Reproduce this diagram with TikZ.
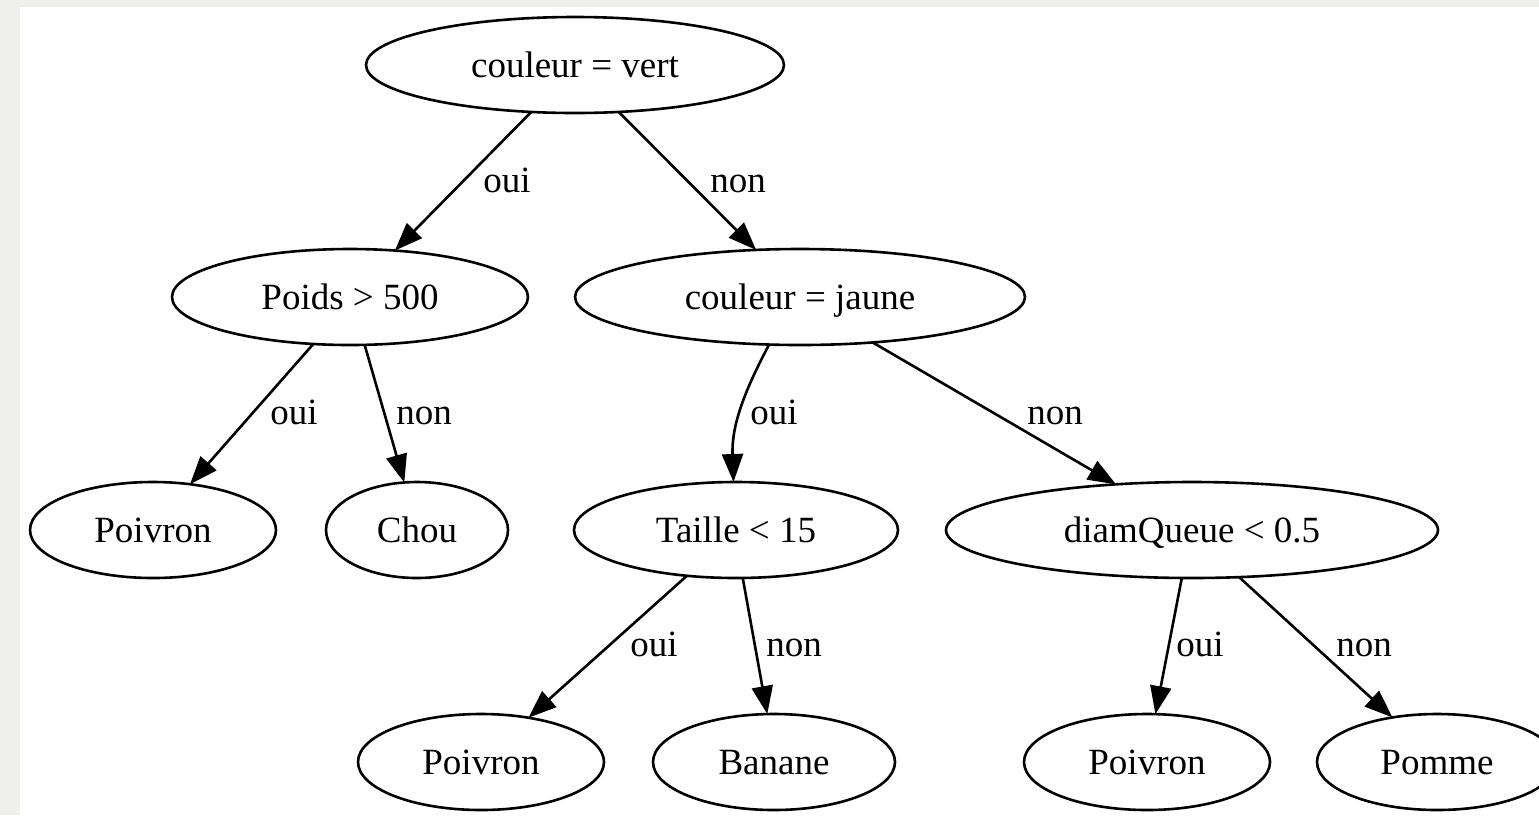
\documentclass[tikz,border=0pt]{standalone}
\usepackage{fontspec}
\setmainfont{Liberation Serif}
\usetikzlibrary{shapes.geometric,arrows.meta}
\definecolor{bgframe}{RGB}{239,240,235}
\tikzset{
  tnode/.style={ellipse, draw, line width=2.6pt, inner sep=0pt, outer sep=0pt,
    minimum height=96pt, text height=28pt, text depth=4pt,
    font=\fontsize{37}{44}\selectfont},
  tedge/.style={line width=2.6pt, -{Triangle[length=28pt,width=21pt]}},
  elabel/.style={anchor=base, inner sep=0pt, font=\fontsize{37}{44}\selectfont}
}
\begin{document}
\begin{tikzpicture}[x=1pt,y=-1pt]
\useasboundingbox (0,0) rectangle (1539,815);
\fill[bgframe] (0,0) rectangle (1539,815);
\fill[white] (20,7) rectangle (1539,815);

\node[tnode, minimum width=418pt] (vert) at (575,65) {couleur = vert};
\node[tnode, minimum width=356pt] (poids) at (350,297) {Poids > 500};
\node[tnode, minimum width=450pt] (jaune) at (800,297) {couleur = jaune};
\node[tnode, minimum width=246pt] (poivA) at (153,530) {Poivron};
\node[tnode, minimum width=182pt] (chou) at (417,530) {Chou};
\node[tnode, minimum width=324pt] (taille) at (736,530) {Taille < 15};
\node[tnode, minimum width=492pt] (diam) at (1192,530) {diamQueue < 0.5};
\node[tnode, minimum width=246pt] (poivB) at (481,762) {Poivron};
\node[tnode, minimum width=242pt] (banane) at (774,762) {Banane};
\node[tnode, minimum width=246pt] (poivC) at (1147,762) {Poivron};
\node[tnode, minimum width=240pt] (pomme) at (1437,762) {Pomme};

\draw[tedge] (vert.-133.2) -- (poids.46.3);
\draw[tedge] (vert.-47.5) -- (jaune.133.7);
\draw[tedge] (poids.-128.4) -- (poivA.51.2);
\draw[tedge] (poids.-73.7) -- (chou.105.8);
\draw[tedge] (jaune.-123.7) to[out=-118,in=92] (taille.93.7);
\draw[tedge] (jaune.-32.1) -- (diam.149.1);
\draw[tedge] (taille.-137.3) -- (poivB.43.8);
\draw[tedge] (taille.-82.7) -- (banane.98.5);
\draw[tedge] (diam.-102.9) -- (poivC.80.3);
\draw[tedge] (diam.-45) -- (pomme.135);

\node[elabel] (l1) at (507,192) {oui};
\node[elabel] (l2) at (738,192) {non};
\node[elabel] (l3) at (294,424) {oui};
\node[elabel] (l4) at (424,424) {non};
\node[elabel] (l5) at (774,424) {oui};
\node[elabel] (l6) at (1055,424) {non};
\node[elabel] (l7) at (654,656) {oui};
\node[elabel] (l8) at (794,656) {non};
\node[elabel] (l9) at (1200,656) {oui};
\node[elabel] (l10) at (1364,656) {non};
\end{tikzpicture}
\end{document}
